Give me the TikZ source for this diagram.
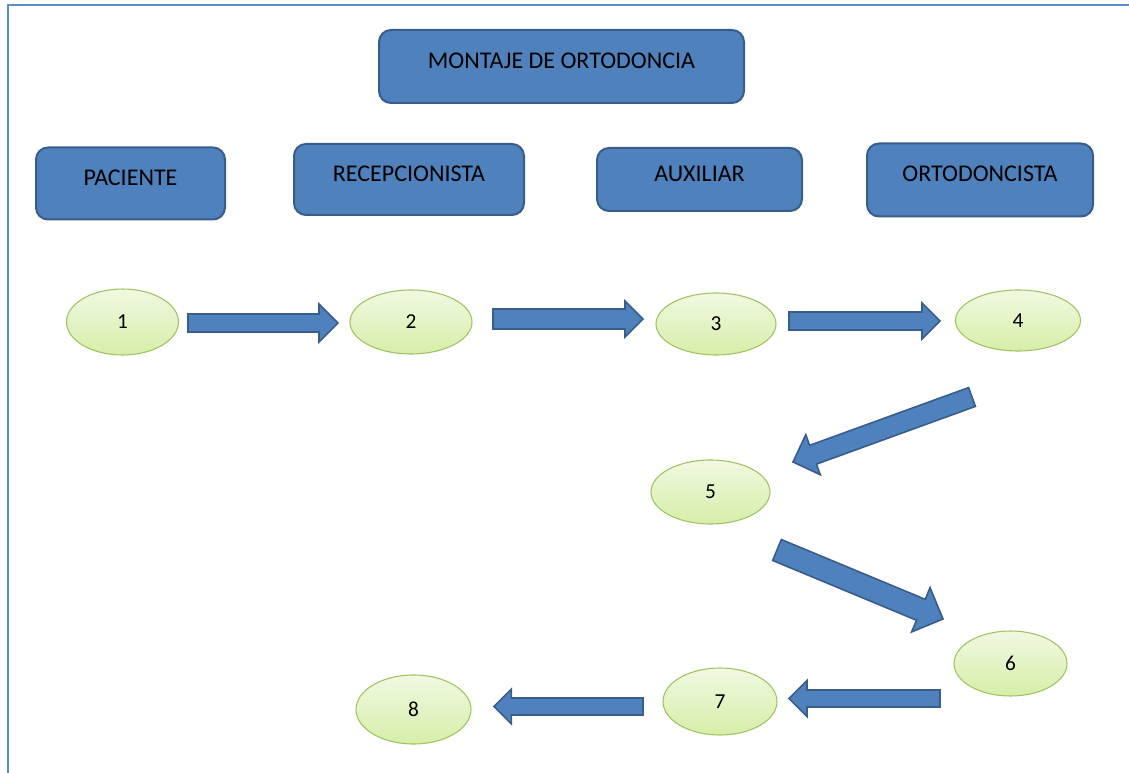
\documentclass[tikz,border=0pt]{standalone}
\usepackage{fontspec}
\setmainfont{Carlito}
\usetikzlibrary{calc,shapes.geometric}
\definecolor{boxfill}{RGB}{79,129,189}
\definecolor{boxline}{RGB}{56,93,138}
\definecolor{elltop}{RGB}{240,249,226}
\definecolor{ellbot}{RGB}{214,238,168}
\definecolor{ellline}{RGB}{160,194,96}
\definecolor{framecol}{RGB}{91,139,203}
\tikzset{
  rolebox/.style={draw=boxline, fill=boxfill, line width=1.5pt, rounded corners=9pt,
    inner sep=0pt, text height=12pt, text depth=9pt,
    font=\fontsize{18}{20}\selectfont},
  stepell/.style={ellipse, draw=ellline, line width=0.8pt, top color=elltop, bottom color=ellbot,
    inner sep=0pt, text height=10.5pt, text depth=0pt,
    font=\fontsize{16}{18}\selectfont},
  blockarrow/.style={draw=boxline, fill=boxfill, line width=1.2pt, line join=miter},
}
\newcommand\barrow[5]{%
  \coordinate (bm) at ($(#2)!#5!(#1)$);
  \draw[blockarrow] ($(#1)!#3!90:(#2)$) -- ($(bm)!#3!90:(#2)$) -- ($(bm)!#4!90:(#2)$) -- (#2)
    -- ($(bm)!#4!-90:(#2)$) -- ($(bm)!#3!-90:(#2)$) -- ($(#1)!#3!-90:(#2)$) -- cycle;
}
\begin{document}
\begin{tikzpicture}[x=0.75pt,y=-0.75pt]
\useasboundingbox (0,0) rectangle (1129,773);
\draw[framecol, line width=1.2pt] (8,773) -- (8,5) -- (1129,5);

% boxes
\node[rolebox, minimum width=365*0.75pt, minimum height=73*0.75pt] (mont) at (561.5,66.5) {MONTAJE DE ORTODONCIA};
\node[rolebox, minimum width=189*0.75pt, minimum height=72*0.75pt] (pac) at (130.5,183.5) {PACIENTE};
\node[rolebox, minimum width=230*0.75pt, minimum height=71*0.75pt] (rec) at (409,179.5) {RECEPCIONISTA};
\node[rolebox, minimum width=205*0.75pt, minimum height=63*0.75pt] (aux) at (699.5,179.5) {AUXILIAR};
\node[rolebox, minimum width=226*0.75pt, minimum height=73*0.75pt] (ort) at (980,180) {ORTODONCISTA};

% ellipses
\node[stepell, minimum width=112*0.75pt, minimum height=66*0.75pt] (e1) at (122.5,322) {1};
\node[stepell, minimum width=122*0.75pt, minimum height=64*0.75pt] (e2) at (411,322) {2};
\node[stepell, minimum width=120*0.75pt, minimum height=62*0.75pt] (e3) at (716,324) {3};
\node[stepell, minimum width=125*0.75pt, minimum height=61*0.75pt] (e4) at (1018,320.5) {4};
\node[stepell, minimum width=119*0.75pt, minimum height=64*0.75pt] (e5) at (710.5,492) {5};
\node[stepell, minimum width=113*0.75pt, minimum height=65*0.75pt] (e6) at (1010.5,663.5) {6};
\node[stepell, minimum width=114*0.75pt, minimum height=67*0.75pt] (e7) at (720,701.5) {7};
\node[stepell, minimum width=115*0.75pt, minimum height=69*0.75pt] (e8) at (413.5,709.5) {8};

% arrow end points
\coordinate (t12) at (188,323);   \coordinate (h12) at (338,323);
\coordinate (t23) at (493,319);   \coordinate (h23) at (643,319);
\coordinate (t34) at (789,321);   \coordinate (h34) at (940,321);
\coordinate (t45) at (972,397);   \coordinate (h45) at (793,462);
\coordinate (t56) at (777,550);   \coordinate (h56) at (943,619);
\coordinate (t67) at (940,698.5); \coordinate (h67) at (789,698.5);
\coordinate (t78) at (643,706.5); \coordinate (h78) at (494,706.5);

\barrow{t12}{h12}{6.75pt}{14.25pt}{14.25pt}
\barrow{t23}{h23}{7.5pt}{13.5pt}{13.5pt}
\barrow{t34}{h34}{6.75pt}{13.5pt}{13.5pt}
\barrow{t45}{h45}{7.5pt}{16pt}{16pt}
\barrow{t56}{h56}{8.5pt}{18pt}{18pt}
\barrow{t67}{h67}{6.4pt}{13.5pt}{13.5pt}
\barrow{t78}{h78}{6.4pt}{13pt}{13pt}
\end{tikzpicture}
\end{document}
